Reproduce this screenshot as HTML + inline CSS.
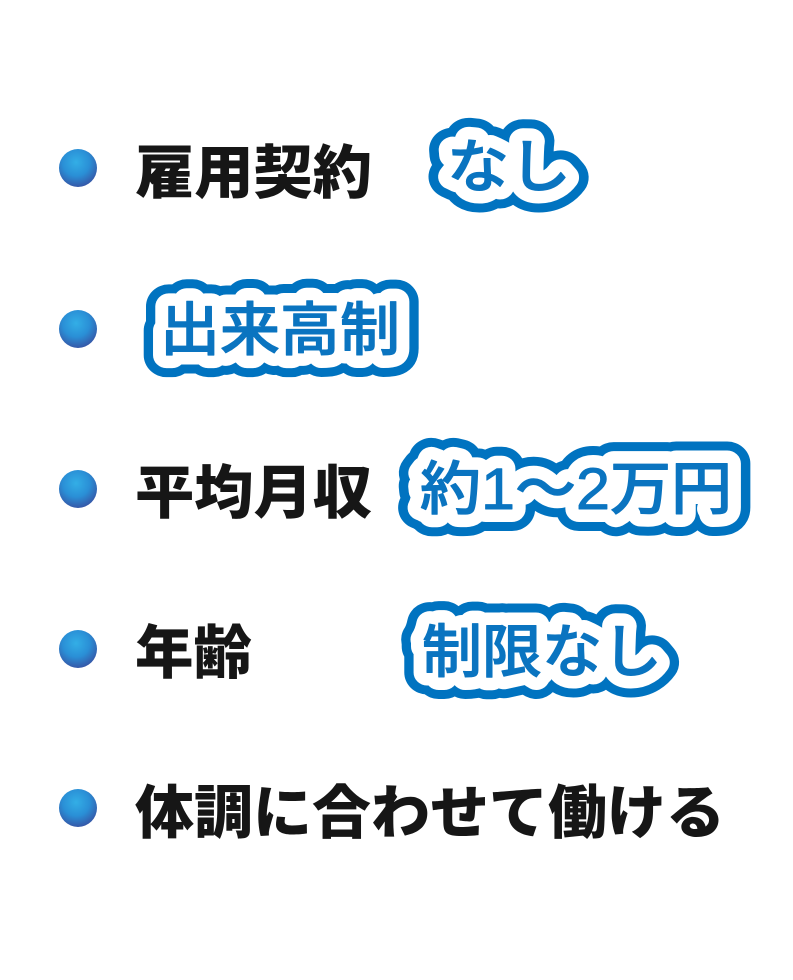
<!DOCTYPE html>
<html><head><meta charset="utf-8"><style>
html,body{margin:0;padding:0;background:#fff;width:793px;height:980px;overflow:hidden}
svg{display:block}
.k{font-family:"Liberation Sans","Noto Sans CJK JP",sans-serif;font-weight:900;fill:#161616;font-size:58px}
.b{font-family:"Liberation Sans","Noto Sans CJK JP",sans-serif;font-weight:500;font-size:58px;stroke-linejoin:round}
.o{fill:#0073c0;stroke:#0073c0;stroke-width:44px}
.w{fill:#fff;stroke:#fff;stroke-width:26px}
.f{fill:#0a74c0;stroke:#0a74c0;stroke-width:1px}
</style></head><body>
<svg width="793" height="980" viewBox="0 0 793 980">
<defs><radialGradient id="g" cx="0.45" cy="0.35" r="0.65">
<stop offset="0" stop-color="#33aee6"/><stop offset="0.55" stop-color="#2a8fd6"/><stop offset="1" stop-color="#3558a8"/></radialGradient></defs>
<circle cx="78" cy="168" r="19" fill="url(#g)"/>
<circle cx="78" cy="329" r="19" fill="url(#g)"/>
<circle cx="78" cy="489" r="19" fill="url(#g)"/>
<circle cx="78" cy="649" r="19" fill="url(#g)"/>
<circle cx="78" cy="808" r="19" fill="url(#g)"/>

<text class="k" x="135" y="193" textLength="237" lengthAdjust="spacingAndGlyphs">雇用契約</text>
<text class="k" x="135" y="513" textLength="237" lengthAdjust="spacingAndGlyphs">平均月収</text>
<text class="k" x="135" y="673" textLength="117" lengthAdjust="spacingAndGlyphs">年齢</text>
<text class="k" x="135" y="833" textLength="590" lengthAdjust="spacingAndGlyphs">体調に合わせて働ける</text>

<g class="b">
<text class="o" x="447" y="187" textLength="124" lengthAdjust="spacingAndGlyphs">なし</text>
<text class="w" x="447" y="187" textLength="124" lengthAdjust="spacingAndGlyphs">なし</text>
<text class="f" x="447" y="187" textLength="124" lengthAdjust="spacingAndGlyphs">なし</text>

<text class="o" x="160" y="350" textLength="240" lengthAdjust="spacingAndGlyphs">出来高制</text>
<text class="w" x="160" y="350" textLength="240" lengthAdjust="spacingAndGlyphs">出来高制</text>
<text class="f" x="160" y="350" textLength="240" lengthAdjust="spacingAndGlyphs">出来高制</text>

<text class="o" x="420" y="509" textLength="312" lengthAdjust="spacingAndGlyphs">約1～2万円</text>
<text class="w" x="420" y="509" textLength="312" lengthAdjust="spacingAndGlyphs">約1～2万円</text>
<text class="f" x="420" y="509" textLength="312" lengthAdjust="spacingAndGlyphs">約1～2万円</text>

<text class="o" x="422" y="672" textLength="240" lengthAdjust="spacingAndGlyphs">制限なし</text>
<text class="w" x="422" y="672" textLength="240" lengthAdjust="spacingAndGlyphs">制限なし</text>
<text class="f" x="422" y="672" textLength="240" lengthAdjust="spacingAndGlyphs">制限なし</text>
</g>
</svg>
</body></html>
